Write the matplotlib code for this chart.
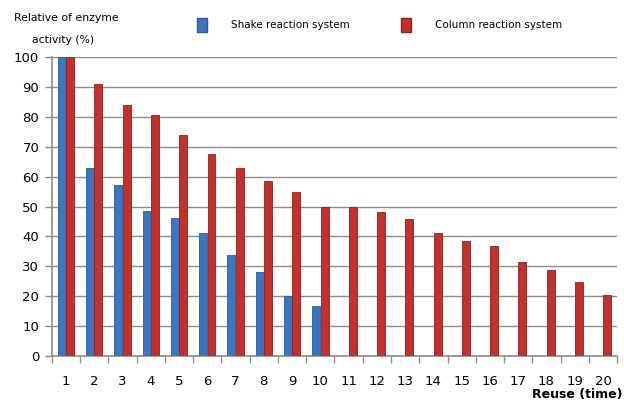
import numpy as np
import matplotlib.pyplot as plt
from matplotlib.patches import Patch

reuse = list(range(1, 21))
shake = [100, 62.8, 57.1, 48.4, 46.0, 41.2, 33.9, 28.2, 19.9, 16.6]
column = [100, 91.1, 84.0, 80.6, 73.8, 67.5, 62.8, 58.5, 55.0, 49.8,
          49.8, 48.3, 45.9, 41.1, 38.6, 36.8, 31.6, 28.7, 24.9, 20.4]

blue = "#3A76C2"
red = "#C4302C"

fig = plt.figure(figsize=(6.24, 4.0), dpi=100)
ax = fig.add_axes([0.083, 0.11, 0.906, 0.7475])

x = np.arange(1, 21)
w = 0.28
ax.bar(x[:len(shake)] - w / 2 - 0.01, shake, w, color=blue, edgecolor="#2A5A9A", linewidth=0.6, zorder=3)
ax.bar(x + w / 2 + 0.01, column, w, color=red, edgecolor="#8E1F1C", linewidth=0.6, zorder=3)

ax.set_xlim(0.5, 20.5)
ax.set_ylim(0, 100)
ax.set_yticks(np.arange(0, 101, 10))
ax.yaxis.grid(True, color="#8C8C8C", linewidth=1.0, zorder=0)
ax.set_axisbelow(True)

ax.set_xticks(x)
ax.set_xticklabels([str(v) for v in reuse])
ax.set_xticks(np.arange(0.5, 21, 1), minor=True)
ax.tick_params(axis='x', which='major', length=0, pad=14, labelsize=9.5)
ax.tick_params(axis='x', which='minor', length=5, color="#8C8C8C", width=1)
ax.tick_params(axis='y', length=5, color="#8C8C8C", width=1, labelsize=9.5, pad=4)

for side in ['top', 'right']:
    ax.spines[side].set_visible(False)
for side in ['left', 'bottom']:
    ax.spines[side].set_color("#8C8C8C")
    ax.spines[side].set_linewidth(1.2)

fig.text(0.022, 0.955, "Relative of enzyme", fontsize=7.8, va='center', ha='left')
fig.text(0.051, 0.9, "activity (%)", fontsize=7.8, va='center', ha='left')
fig.text(0.997, 0.013, "Reuse (time)", fontsize=9, fontweight='bold', ha='right', va='center')

handles = [Patch(facecolor=blue, edgecolor="#2A5A9A"), Patch(facecolor=red, edgecolor="#8E1F1C")]
fig.legend(handles, ["Shake reaction system", "Column reaction system"],
           loc='center left', bbox_to_anchor=(0.316, 0.9375), ncol=2, frameon=False,
           borderpad=0, borderaxespad=0,
           fontsize=7.5, handlelength=0.9, handleheight=1.6, handletextpad=2.3, columnspacing=5.0)

plt.savefig("out.png", dpi=100)
